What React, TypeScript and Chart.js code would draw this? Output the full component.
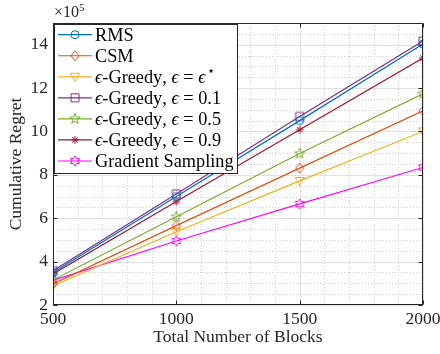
import React, { useEffect, useRef } from "react";
import { Chart, registerables } from "chart.js";
Chart.register(...registerables);

const blocks = [500, 1000, 1500, 2000];
const rmsRegret = [3.5, 7.0, 10.5, 14.03];
const csmRegret = [2.97, 5.66, 8.31, 10.95];
const greedyStarRegret = [2.88, 5.38, 7.72, 10.0];
const greedy01Regret = [3.58, 7.12, 10.69, 14.17];
const greedy05Regret = [3.15, 6.07, 8.98, 11.74];
const greedy09Regret = [3.43, 6.77, 10.08, 13.38];
const gradientRegret = [3.13, 4.95, 6.66, 8.34];

const seriesNames = [
  "RMS",
  "CSM",
  "ϵ-Greedy, ϵ = ϵ⋆",
  "ϵ-Greedy, ϵ = 0.1",
  "ϵ-Greedy, ϵ = 0.5",
  "ϵ-Greedy, ϵ = 0.9",
  "Gradient Sampling",
];
const seriesValues = [
  rmsRegret,
  csmRegret,
  greedyStarRegret,
  greedy01Regret,
  greedy05Regret,
  greedy09Regret,
  gradientRegret,
];
const seriesColors = ["#0072BD", "#D95319", "#EDB120", "#7E2F8E", "#77AC30", "#A2142F", "#FF00FF"];
const seriesMarkers = ["circle", "diamond", "triangleDown", "square", "pentagram", "asterisk", "hexagram"];

const xTickValues = [500, 1000, 1500, 2000];
const yTickValues = [2, 4, 6, 8, 10, 12, 14];
const xMinorValues = [600, 700, 800, 900, 1100, 1200, 1300, 1400, 1600, 1700, 1800, 1900];
const yMinorValues = [2.5, 3, 3.5, 4.5, 5, 5.5, 6.5, 7, 7.5, 8.5, 9, 9.5, 10.5, 11, 11.5, 12.5, 13, 13.5, 14.5];

const xTitle = "Total Number of Blocks";
const yTitle = "Cumulative Regret";

const SERIF = "'Liberation Serif', 'DejaVu Serif', serif";

function drawMarker(ctx: CanvasRenderingContext2D, kind: string, x: number, y: number, color: string) {
  ctx.save();
  ctx.strokeStyle = color;
  ctx.lineWidth = 1;
  ctx.beginPath();
  if (kind === "circle") {
    ctx.arc(x, y, 4, 0, Math.PI * 2);
  } else if (kind === "diamond") {
    ctx.moveTo(x, y - 5);
    ctx.lineTo(x + 4, y);
    ctx.lineTo(x, y + 5);
    ctx.lineTo(x - 4, y);
    ctx.closePath();
  } else if (kind === "triangleDown") {
    ctx.moveTo(x - 4.5, y - 3.5);
    ctx.lineTo(x + 4.5, y - 3.5);
    ctx.lineTo(x, y + 4.5);
    ctx.closePath();
  } else if (kind === "square") {
    ctx.rect(x - 4, y - 4, 8, 8);
  } else if (kind === "pentagram") {
    for (let i = 0; i < 10; i++) {
      const r = i % 2 ? 2.3 : 5.5;
      const a = -Math.PI / 2 + (i * Math.PI) / 5;
      const px = x + r * Math.cos(a);
      const py = y + r * Math.sin(a);
      if (i === 0) ctx.moveTo(px, py);
      else ctx.lineTo(px, py);
    }
    ctx.closePath();
  } else if (kind === "hexagram") {
    for (let i = 0; i < 12; i++) {
      const r = i % 2 ? 2.9 : 5;
      const a = -Math.PI / 2 + (i * Math.PI) / 6;
      const px = x + r * Math.cos(a);
      const py = y + r * Math.sin(a);
      if (i === 0) ctx.moveTo(px, py);
      else ctx.lineTo(px, py);
    }
    ctx.closePath();
  } else if (kind === "asterisk") {
    for (let i = 0; i < 4; i++) {
      const a = (i * Math.PI) / 4;
      ctx.moveTo(x - 4 * Math.cos(a), y - 4 * Math.sin(a));
      ctx.lineTo(x + 4 * Math.cos(a), y + 4 * Math.sin(a));
    }
  }
  ctx.stroke();
  ctx.restore();
}

function makeMarkerCanvas(kind: string, color: string): HTMLCanvasElement {
  const c = document.createElement("canvas");
  c.width = 14;
  c.height = 14;
  const ctx = c.getContext("2d")!;
  drawMarker(ctx, kind, 7, 7, color);
  return c;
}

function drawRich(ctx: CanvasRenderingContext2D, text: string, x: number, y: number, size: number) {
  let cx = x;
  ctx.textBaseline = "middle";
  ctx.textAlign = "left";
  for (const ch of Array.from(text)) {
    if (ch === "ϵ") {
      ctx.font = `italic ${size}px ${SERIF}`;
      ctx.fillText(ch, cx, y);
      cx += ctx.measureText(ch).width;
    } else if (ch === "⋆") {
      ctx.font = `${size * 0.7}px 'DejaVu Serif', ${SERIF}`;
      ctx.fillText(ch, cx + 1, y - 6);
      cx += ctx.measureText(ch).width + 1;
    } else {
      ctx.font = `${size}px ${SERIF}`;
      ctx.fillText(ch, cx, y);
      cx += ctx.measureText(ch).width;
    }
  }
}

const decorPlugin = {
  id: "decor",
  beforeDraw(chart: any) {
    const ctx = chart.ctx;
    ctx.save();
    ctx.fillStyle = "#ffffff";
    ctx.fillRect(0, 0, chart.width, chart.height);
    ctx.restore();
  },
  beforeDatasetsDraw(chart: any) {
    const { ctx, chartArea: a, scales } = chart;
    const xs = scales.x;
    const ys = scales.y;
    ctx.save();
    ctx.lineWidth = 1;
    ctx.strokeStyle = "#cfcfcf";
    ctx.setLineDash([1, 2]);
    for (const v of xMinorValues) {
      const px = Math.round(xs.getPixelForValue(v)) + 0.5;
      ctx.beginPath();
      ctx.moveTo(px, a.top);
      ctx.lineTo(px, a.bottom);
      ctx.stroke();
    }
    for (const v of yMinorValues) {
      const py = Math.round(ys.getPixelForValue(v)) + 0.5;
      ctx.beginPath();
      ctx.moveTo(a.left, py);
      ctx.lineTo(a.right, py);
      ctx.stroke();
    }
    ctx.setLineDash([]);
    ctx.strokeStyle = "#e0e0e0";
    for (const v of xTickValues) {
      const px = Math.round(xs.getPixelForValue(v)) + 0.5;
      ctx.beginPath();
      ctx.moveTo(px, a.top);
      ctx.lineTo(px, a.bottom);
      ctx.stroke();
    }
    for (const v of yTickValues) {
      const py = Math.round(ys.getPixelForValue(v)) + 0.5;
      ctx.beginPath();
      ctx.moveTo(a.left, py);
      ctx.lineTo(a.right, py);
      ctx.stroke();
    }
    ctx.restore();
  },
  afterDatasetsDraw(chart: any) {
    const { ctx, chartArea: a, scales } = chart;
    const xs = scales.x;
    const ys = scales.y;
    ctx.save();
    // frame
    ctx.strokeStyle = "#262626";
    ctx.lineWidth = 1;
    const L = Math.round(a.left) + 0.5;
    const R = Math.round(a.right) - 0.5;
    const T = Math.round(a.top) + 0.5;
    const B = Math.round(a.bottom) - 0.5;
    ctx.strokeRect(L, T, R - L, B - T);
    ctx.beginPath();
    for (const v of xTickValues) {
      const px = Math.round(xs.getPixelForValue(v)) + 0.5;
      ctx.moveTo(px, B);
      ctx.lineTo(px, B - 4);
      ctx.moveTo(px, T);
      ctx.lineTo(px, T + 4);
    }
    for (const v of yTickValues) {
      const py = Math.round(ys.getPixelForValue(v)) + 0.5;
      ctx.moveTo(L, py);
      ctx.lineTo(L + 4, py);
      ctx.moveTo(R, py);
      ctx.lineTo(R - 4, py);
    }
    ctx.stroke();

    // exponent label
    ctx.fillStyle = "#262626";
    ctx.textBaseline = "alphabetic";
    ctx.textAlign = "left";
    ctx.font = `16px ${SERIF}`;
    ctx.fillText("×10", a.left + 1, 17);
    const w = ctx.measureText("×10").width;
    ctx.font = `11px ${SERIF}`;
    ctx.fillText("5", a.left + 1 + w, 11);

    // legend
    const bx = 54.5;
    const by = 24.5;
    const bw = 183;
    const bh = 149;
    ctx.fillStyle = "#ffffff";
    ctx.fillRect(bx, by, bw, bh);
    ctx.strokeStyle = "#262626";
    ctx.lineWidth = 1;
    ctx.strokeRect(bx, by, bw, bh);
    const rowH = 21.05;
    for (let i = 0; i < seriesNames.length; i++) {
      const cy = 34.7 + i * rowH;
      ctx.strokeStyle = seriesColors[i];
      ctx.lineWidth = 1.2;
      ctx.beginPath();
      ctx.moveTo(58, cy);
      ctx.lineTo(92, cy);
      ctx.stroke();
      drawMarker(ctx, seriesMarkers[i], 75, cy, seriesColors[i]);
      ctx.fillStyle = "#000000";
      drawRich(ctx, seriesNames[i], 95, cy + 1, 18.3);
    }
    ctx.restore();
  },
};

export default function App() {
  const ref = useRef<HTMLCanvasElement | null>(null);
  useEffect(() => {
    document.body.style.margin = "0";
    const canvas = ref.current!;
    const markerImgs = seriesMarkers.map((m, i) => makeMarkerCanvas(m, seriesColors[i]));
    const datasets = seriesNames.map((name, i) => ({
      label: name,
      data: blocks.map((b, j) => ({ x: b, y: seriesValues[i][j] })),
      borderColor: seriesColors[i],
      backgroundColor: seriesColors[i],
      borderWidth: 1.2,
      pointStyle: markerImgs[i] as any,
      pointRadius: 5,
      fill: false,
      tension: 0,
    }));
    const tickFont = { family: SERIF, size: 17.5 };
    const titleFont = { family: SERIF, size: 17.5 };
    const chart = new Chart(canvas, {
      type: "line",
      data: { datasets },
      options: {
        animation: false,
        responsive: false,
        devicePixelRatio: 1,
        layout: { padding: { top: 23, right: 17, left: 0, bottom: 0 } },
        plugins: { legend: { display: false }, tooltip: { enabled: false } },
        scales: {
          x: {
            type: "linear",
            min: 500,
            max: 2000,
            afterBuildTicks: (s: any) => {
              s.ticks = xTickValues.map((v) => ({ value: v }));
            },
            afterFit: (s: any) => {
              s.height = 49;
              s.paddingLeft = 0;
              s.paddingRight = 0;
            },
            grid: { display: false, drawTicks: false },
            border: { display: false },
            ticks: {
              font: tickFont,
              color: "#262626",
              padding: 4,
              maxRotation: 0,
              autoSkip: false,
              callback: (v: any) => String(v),
            },
            title: {
              display: true,
              text: xTitle,
              font: titleFont,
              color: "#262626",
              padding: { top: 0, bottom: 6 },
            },
          },
          y: {
            type: "linear",
            min: 2,
            max: 15,
            afterBuildTicks: (s: any) => {
              s.ticks = yTickValues.map((v) => ({ value: v }));
            },
            afterFit: (s: any) => {
              s.width = 53;
              s.paddingTop = 0;
              s.paddingBottom = 0;
            },
            grid: { display: false, drawTicks: false },
            border: { display: false },
            ticks: {
              font: tickFont,
              color: "#262626",
              padding: 5,
              autoSkip: false,
              callback: (v: any) => String(v),
            },
            title: {
              display: true,
              text: yTitle,
              font: titleFont,
              color: "#262626",
              padding: { top: 6, bottom: 0 },
            },
          },
        },
      },
      plugins: [decorPlugin],
    });
    return () => chart.destroy();
  }, []);
  return (
    <div style={{ position: "absolute", left: 0, top: 0, width: 440, height: 354 }}>
      <canvas ref={ref} width={440} height={354} />
    </div>
  );
}
